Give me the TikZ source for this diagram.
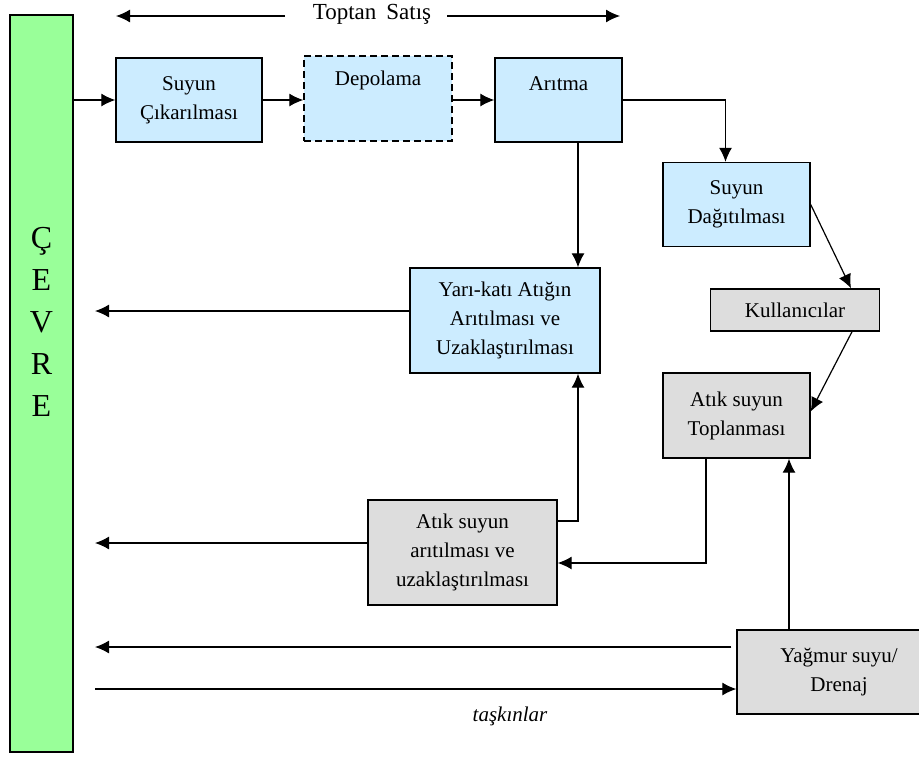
\documentclass[tikz,border=0pt]{standalone}
\usepackage{fontspec}
\setmainfont{Liberation Serif}
\usetikzlibrary{arrows.meta}
\definecolor{mavi}{RGB}{204,236,255}
\definecolor{gri}{RGB}{221,221,221}
\definecolor{yesil}{RGB}{153,255,153}
\begin{document}
\begin{tikzpicture}[x=0.5pt,y=-0.5pt]
\tikzset{kutu/.style={draw, line width=0.7pt, align=center, inner sep=2pt, font=\fontsize{10.5}{14.5}\selectfont},
mavikutu/.style={kutu, fill=mavi},
grikutu/.style={kutu, fill=gri},
ok/.style={-{Latex[length=7pt,width=6.5pt]}, line width=0.6pt}}
\clip (0,0) rectangle (919,756);
\useasboundingbox (0,0) rectangle (919,756);
\node[kutu, fill=yesil, minimum width=31.5pt, minimum height=368.5pt] (cevre) at (41.5,383.5) {};
\node[align=center, font=\fontsize{16}{21}\selectfont] (cevreyazi) at (41.5,322) {Ç\\E\\V\\R\\E};
\node[font=\fontsize{11.5}{13}\selectfont] (toptan) at (372,14) {Toptan\hspace{5pt}Satış};
\node[mavikutu, minimum width=73pt, minimum height=42pt] (cikarma) at (189,100) {Suyun\\Çıkarılması};
\node[mavikutu, dash pattern=on 3.5pt off 2pt, minimum width=74pt, text height=12.5pt, text depth=26pt] (depolama) at (378,98.5) {Depolama};
\node[mavikutu, minimum width=63.5pt, text height=14pt, text depth=24pt] (aritma) at (558.5,100) {Arıtma};
\node[mavikutu, minimum width=73.5pt, minimum height=42pt] (dagitim) at (736.5,204.5) {Suyun\\Dağıtılması};
\node[grikutu, minimum width=84.5pt, minimum height=21pt] (kullanici) at (795,310) {Kullanıcılar};
\node[grikutu, minimum width=73.5pt, minimum height=42.5pt] (toplama) at (736.5,415.5) {Atık suyun\\Toplanması};
\node[mavikutu, minimum width=95pt, minimum height=52.5pt] (yarikati) at (505,320.5) {Yarı-katı Atığın\\Arıtılması ve\\Uzaklaştırılması};
\node[grikutu, minimum width=94.5pt, minimum height=52.5pt] (atiksu) at (462.5,552.5) {Atık suyun\\arıtılması ve\\uzaklaştırılması};
\node[grikutu, minimum width=102pt, minimum height=42pt] (yagmur) at (839,672) {Yağmur suyu/\\Drenaj};
\node[font=\fontsize{10.5}{12}\selectfont\itshape] (taskin) at (510,716) {taşkınlar};
\coordinate (tsol) at (116,16);
\coordinate (tsolbas) at (285,16);
\coordinate (tsagbas) at (447,16);
\coordinate (tsag) at (620,16);
\coordinate (c1) at (95,311);
\coordinate (c2) at (95,543);
\coordinate (c3) at (95,647);
\coordinate (c4) at (95,689);
\draw[ok] (tsolbas) -- (tsol);
\draw[ok] (tsagbas) -- (tsag);
\draw[ok] (cevre.east |- cikarma.west) -- (cikarma.west);
\draw[ok] (cikarma.east) -- (depolama.west |- cikarma.east);
\draw[ok] (depolama.east |- cikarma.east) -- (aritma.west |- cikarma.east);
\draw[ok] (aritma.east) -| ([xshift=-5.5pt]dagitim.north);
\draw[ok] ([xshift=9.75pt]aritma.south) -- ([xshift=9.75pt]aritma.south |- yarikati.north);
\draw[ok] (dagitim.east) -- ([xshift=28pt]kullanici.north);
\draw[ok] ([xshift=28.5pt]kullanici.south) -- ([yshift=2pt]toplama.east);
\draw[ok] (yarikati.west |- c1) -- (c1);
\draw[ok] ([yshift=15.75pt]atiksu.east) -| ([xshift=36.5pt]yarikati.south);
\draw[ok] ([xshift=-15.25pt]toplama.south) |- ([yshift=-5.25pt]atiksu.east);
\draw[ok] (atiksu.west |- c2) -- (c2);
\draw[ok] ([xshift=-25pt]yagmur.north) -- ([xshift=-25pt]yagmur.north |- toplama.south);
\draw[ok, shorten <=2.5pt] (yagmur.west |- c3) -- (c3);
\draw[ok] (c4) -- (yagmur.west |- c4);
\end{tikzpicture}
\end{document}
